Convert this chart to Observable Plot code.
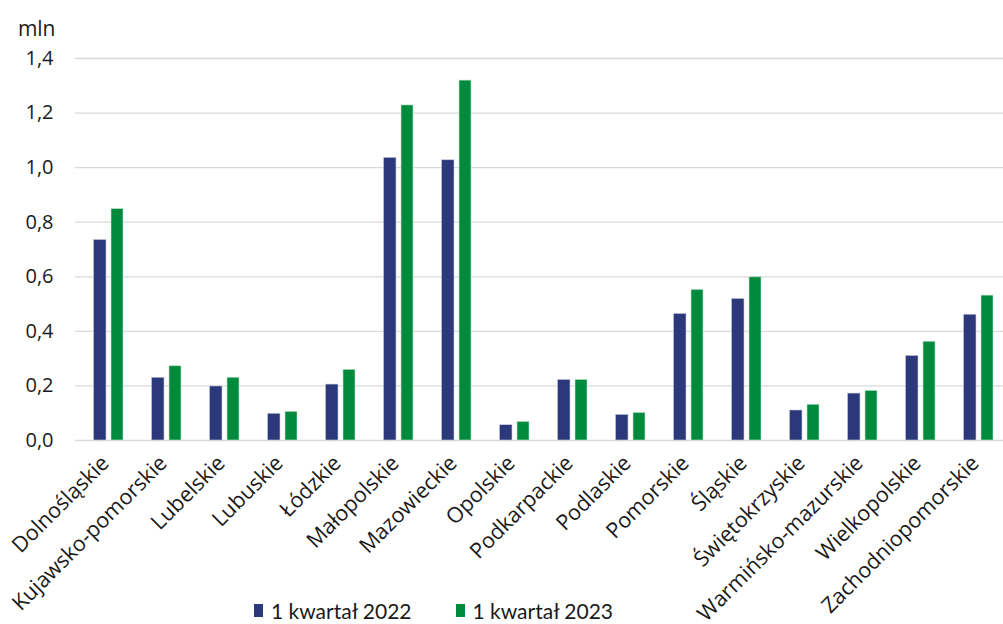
<!DOCTYPE html>
<html>
<head>
<meta charset="utf-8">
<script src="https://cdn.jsdelivr.net/npm/d3@7"></script>
<script src="https://cdn.jsdelivr.net/npm/@observablehq/plot@0.6"></script>
<style>
  body { margin: 0; background: #fff; }
  #wrap { position: relative; width: 1003px; height: 624px; overflow: hidden; }
  #legend { position: absolute; left: 254px; top: 598px; display: flex; align-items: center;
            font-family: Lato, "Open Sans", sans-serif; font-size: 21px; color: #1a1a1a; }
  .item { display: flex; align-items: center; margin-right: 44px; }
  .sw { display: inline-block; width: 9px; height: 13px; margin-right: 8px; }
</style>
</head>
<body>
<div id="wrap"></div>
<script>
const regions = ["Dolnośląskie","Kujawsko-pomorskie","Lubelskie","Lubuskie","Łódzkie","Małopolskie","Mazowieckie","Opolskie","Podkarpackie","Podlaskie","Pomorskie","Śląskie","Świętokrzyskie","Warmińsko-mazurskie","Wielkopolskie","Zachodniopomorskie"];
const q2022 = [0.735, 0.230, 0.198, 0.098, 0.205, 1.036, 1.027, 0.056, 0.222, 0.094, 0.464, 0.519, 0.110, 0.172, 0.310, 0.461];
const q2023 = [0.848, 0.272, 0.230, 0.105, 0.259, 1.228, 1.319, 0.068, 0.222, 0.101, 0.552, 0.598, 0.131, 0.182, 0.362, 0.531];
const yTicks = [0, 0.2, 0.4, 0.6, 0.8, 1.0, 1.2, 1.4];
const seriesNames = ["1 kwartał 2022", "1 kwartał 2023"];
const colors = ["#2b3879", "#008a3e"];
const unitLabel = "mln";

const rows = regions.map((r, i) => ({region: r, v22: q2022[i], v23: q2023[i]}));
const fmt = d => d.toFixed(1).replace(".", ",");

const chart = Plot.plot({
  width: 1003, height: 624,
  marginLeft: 75, marginRight: 0, marginTop: 58, marginBottom: 184,
  style: {fontFamily: "'Open Sans', sans-serif", fontSize: "20px", color: "#1a1a1a", background: "#fff"},
  x: {domain: regions, range: [74.7, 1012.3], padding: 0, label: null},
  y: {domain: [0, 1.4], label: null},
  marks: [
    Plot.ruleY(yTicks, {stroke: "#d9d9d9", strokeWidth: 1.3}),
    Plot.barY(rows, {x: "region", y: "v22", fill: colors[0], stroke: "#c9cce0", strokeWidth: 0.6, insetLeft: 14.5, insetRight: 31}),
    Plot.barY(rows, {x: "region", y: "v23", fill: colors[1], stroke: "#bfe3cc", strokeWidth: 0.6, insetLeft: 32, insetRight: 14}),
    Plot.axisY({ticks: yTicks, tickSize: 0, tickPadding: 22, tickFormat: fmt, fontSize: 20, label: null}),
    Plot.axisX({tickSize: 0, tickRotate: -45, tickPadding: 19, dx: -3, fontSize: 21.5, label: null}),
    Plot.text([unitLabel], {frameAnchor: "top-left", dx: -20, dy: -37, textAnchor: "end", fontSize: 21, fill: "#1a1a1a"})
  ]
});

const wrap = document.getElementById("wrap");
wrap.appendChild(chart);
const legend = document.createElement("div");
legend.id = "legend";
seriesNames.forEach((name, i) => {
  const it = document.createElement("span");
  it.className = "item";
  const sw = document.createElement("span");
  sw.className = "sw";
  sw.style.background = colors[i];
  it.appendChild(sw);
  it.appendChild(document.createTextNode(name));
  legend.appendChild(it);
});
wrap.appendChild(legend);
</script>
</body>
</html>
